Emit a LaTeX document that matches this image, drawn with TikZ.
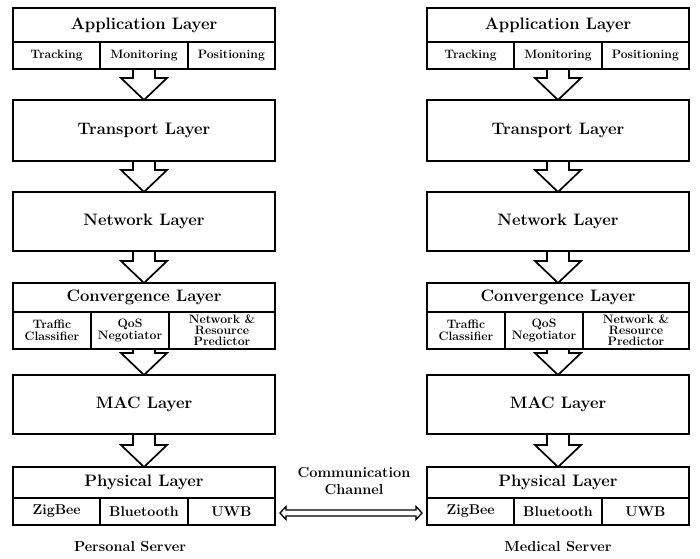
\documentclass[tikz,border=0pt]{standalone}
\usetikzlibrary{calc}
\newcommand\blkarrow[2]{\draw[blk] let \p1=(#1), \p2=(#2) in
  (\x1-11pt,\y1) -- (\x1-11pt,\y2+22pt) -- (\x1-23pt,\y2+22pt) -- (\x1,\y2)
  -- (\x1+23pt,\y2+22pt) -- (\x1+11pt,\y2+22pt) -- (\x1+11pt,\y1);}
\begin{document}
\begin{tikzpicture}[x=1pt,y=-1pt,
  box/.style={draw, line width=1.7pt, inner sep=0pt, outer sep=0pt,
    font=\fontsize{16.6}{19}\selectfont\bfseries, align=center},
  cell/.style={box, font=\fontsize{12.2}{12.2}\selectfont\bfseries},
  pcell/.style={box, font=\fontsize{14.2}{16}\selectfont\bfseries},
  blk/.style={draw, line width=1.7pt, line join=miter},
  dbl/.style={draw, line width=1.3pt, line join=miter},
  lab/.style={font=\fontsize{14.5}{16.5}\selectfont\bfseries, align=center, inner sep=0pt}]
\fill[white] (0,0) rectangle (700,558);
\useasboundingbox (0,0) rectangle (700,558);
\foreach \col/\dx in {L/13,R/427}{
  \begin{scope}[xshift=\dx pt]
    \node[box, minimum width=262pt, minimum height=34pt] (\col-app) at (131,25) {Application Layer};
    \node[cell, minimum width=87.33pt, minimum height=27pt] (\col-track) at (43.67,55.5) {Tracking};
    \node[cell, minimum width=87.33pt, minimum height=27pt] (\col-mon) at (131,55.5) {Monitoring};
    \node[cell, minimum width=87.33pt, minimum height=27pt] (\col-pos) at (218.33,55.5) {Positioning};
    \node[box, minimum width=262pt, minimum height=61pt] (\col-trans) at (131,130.5) {Transport Layer};
    \node[box, minimum width=262pt, minimum height=59pt] (\col-net) at (131,221.5) {Network Layer};
    \node[box, minimum width=262pt, minimum height=29pt] (\col-conv) at (131,297.5) {Convergence Layer};
    \node[cell, minimum width=78pt, minimum height=37pt] (\col-traf) at (39,330.5) {Traffic\\Classifier};
    \node[cell, minimum width=78pt, minimum height=37pt] (\col-qos) at (117,330.5) {QoS\\Negotiator};
    \node[cell, minimum width=106pt, minimum height=37pt, font=\fontsize{12.2}{11.2}\selectfont\bfseries] (\col-pred) at (209,330.5) {Network \&\\Resource\\Predictor};
    \node[box, minimum width=262pt, minimum height=59pt] (\col-mac) at (131,404.5) {MAC Layer};
    \node[box, minimum width=262pt, minimum height=31pt] (\col-phy) at (131,482.5) {Physical Layer};
    \node[pcell, minimum width=87.33pt, minimum height=27pt] (\col-zig) at (43.67,511.5) {ZigBee};
    \node[pcell, minimum width=87.33pt, minimum height=27pt] (\col-blue) at (131,511.5) {Bluetooth};
    \node[pcell, minimum width=87.33pt, minimum height=27pt] (\col-uwb) at (218.33,511.5) {UWB};
  \end{scope}
  \blkarrow{\col-mon.south}{\col-trans.north}
  \blkarrow{\col-trans.south}{\col-net.north}
  \blkarrow{\col-net.south}{\col-conv.north}
  \blkarrow{\col-conv.center |- \col-qos.south}{\col-mac.north}
  \blkarrow{\col-mac.south}{\col-phy.north}
}
\draw[dbl] let \p1=(L-uwb.east), \p2=(R-zig.west) in
  (\x1+5pt,\y1-1.5pt) -- (\x1+11pt,\y1+5pt) -- (\x1+11pt,\y1+1.5pt) -- (\x2-11pt,\y1+1.5pt)
  -- (\x2-11pt,\y1+5pt) -- (\x2-5pt,\y1-1.5pt) -- (\x2-11pt,\y1-8pt) -- (\x2-11pt,\y1-4.5pt)
  -- (\x1+11pt,\y1-4.5pt) -- (\x1+11pt,\y1-8pt) -- cycle;
\node[lab] (chan) at (354,481) {Communication\\Channel};
\node[lab] (ps) at (130,547) {Personal Server};
\node[lab] (ms) at (558,547) {Medical Server};
\end{tikzpicture}
\end{document}
